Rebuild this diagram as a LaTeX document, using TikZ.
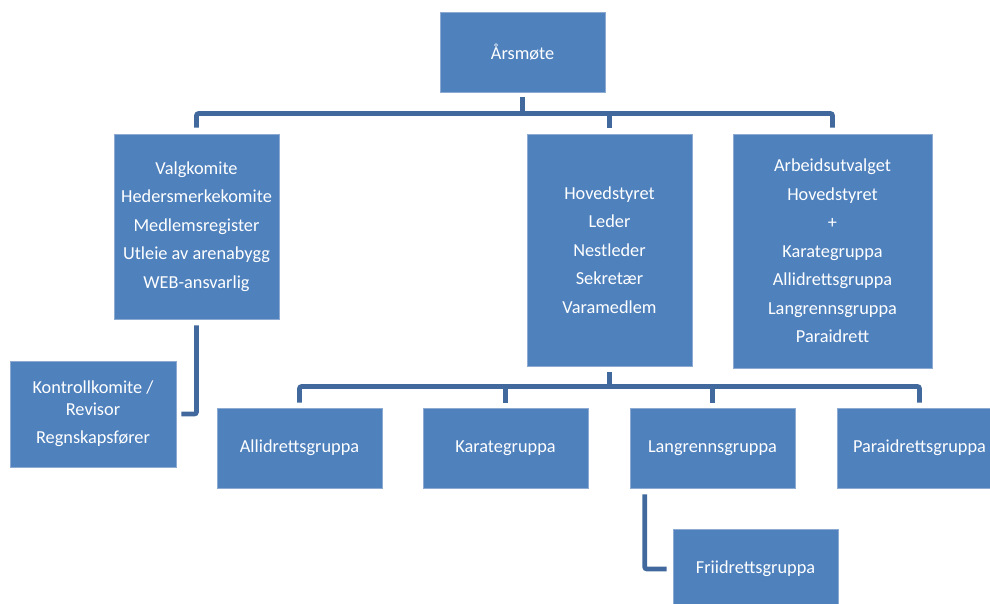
\documentclass[tikz,border=0pt]{standalone}
\usepackage{fontspec}
\setmainfont{Carlito}
\definecolor{boxblue}{HTML}{4F81BD}
\definecolor{boxedge}{HTML}{8DAAD3}
\definecolor{lineblue}{HTML}{41699D}
\begin{document}
\begin{tikzpicture}[x=1pt,y=-1pt,
  orgbox/.style={fill=boxblue,draw=boxedge,line width=0.6pt,text=white,align=center,
    inner sep=0pt,font=\fontsize{18.3}{21.5}\selectfont},
  conn/.style={draw=lineblue,line width=4.6pt,rounded corners=2pt}]
\useasboundingbox (0,0) rectangle (990,603);
\begin{scope}
\clip (0,0) rectangle (990,603);
\node[orgbox,minimum width=165pt,minimum height=80pt] (aars) at (522.5,52) {Årsmøte};
\node[orgbox,minimum width=165pt,minimum height=185pt] (valg) at (196.5,226.5)
  {Valgkomite\\[7pt]Hedersmerkekomite\\[7pt]Medlemsregister\\[7pt]Utleie av arenabygg\\[7pt]WEB-ansvarlig};
\node[orgbox,minimum width=165pt,minimum height=232pt] (hoved) at (609.5,250)
  {Hovedstyret\\[7pt]Leder\\[7pt]Nestleder\\[7pt]Sekretær\\[7pt]Varamedlem};
\node[orgbox,minimum width=199pt,minimum height=234pt] (arb) at (832.5,251)
  {Arbeidsutvalget\\[7pt]Hovedstyret\\[7pt]+\\[7pt]Karategruppa\\[7pt]Allidrettsgruppa\\[7pt]Langrennsgruppa\\[7pt]Paraidrett};
\node[orgbox,minimum width=166pt,minimum height=106pt] (kontroll) at (93,414)
  {Kontrollkomite /\\Revisor\\[7pt]Regnskapsfører};
\node[orgbox,minimum width=165pt,minimum height=80pt] (alli) at (299.5,448) {Allidrettsgruppa};
\node[orgbox,minimum width=165pt,minimum height=80pt] (karate) at (505.5,448) {Karategruppa};
\node[orgbox,minimum width=165pt,minimum height=80pt] (lang) at (712.5,448) {Langrennsgruppa};
\node[orgbox,minimum width=165pt,minimum height=80pt] (para) at (919.5,448) {Paraidrettsgruppa};
\node[orgbox,minimum width=165pt,minimum height=80pt] (frii) at (755.5,569) {Friidrettsgruppa};

\coordinate (bar1) at (522.5,113.5);
\coordinate (bar2) at (609.5,386.5);

% top level
\draw[conn,rounded corners=0pt] ([yshift=-5pt]aars.south) -- (aars.south |- bar1);
\draw[conn] ([yshift=6pt]valg.north) -- (valg.north |- bar1) -- (arb.north |- bar1) -- ([yshift=6pt]arb.north);
\draw[conn,rounded corners=0pt] ([yshift=6pt]hoved.north) -- (hoved.north |- bar1);

% valg to kontroll
\draw[conn] ([yshift=-6pt]valg.south) |- ([xshift=5pt]kontroll.east);

% second level
\draw[conn,rounded corners=0pt] ([yshift=-6pt]hoved.south) -- (hoved.south |- bar2);
\draw[conn] ([yshift=5pt]alli.north) -- (alli.north |- bar2) -- (para.north |- bar2) -- ([yshift=5pt]para.north);
\draw[conn,rounded corners=0pt] ([yshift=5pt]karate.north) -- (karate.north |- bar2);
\draw[conn,rounded corners=0pt] ([yshift=5pt]lang.north) -- (lang.north |- bar2);

% lang to frii
\draw[conn] ([xshift=15pt,yshift=-6pt]lang.south west) |- ([xshift=-6pt]frii.west);
\end{scope}
\end{tikzpicture}
\end{document}
